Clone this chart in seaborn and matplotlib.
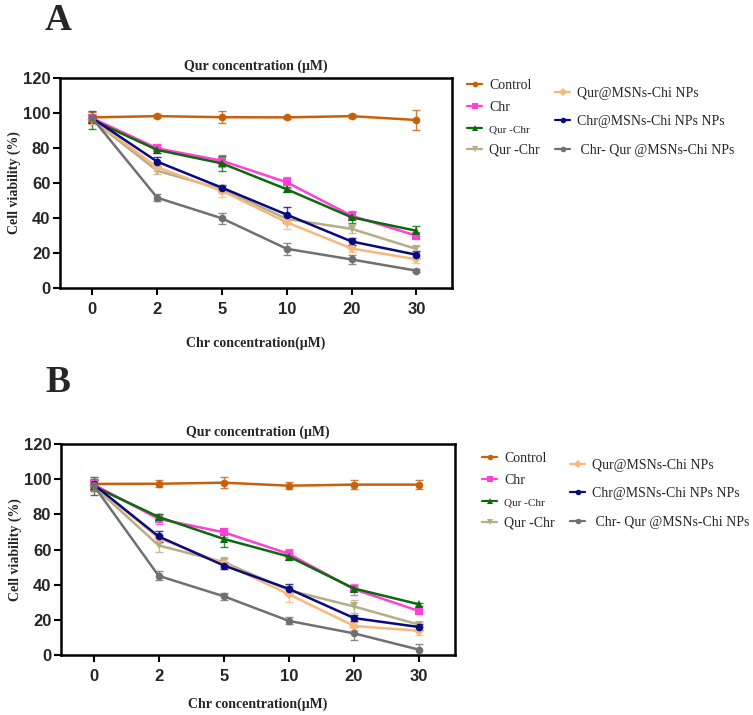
import numpy as np
import pandas as pd
import matplotlib
matplotlib.use("Agg")
import matplotlib.pyplot as plt
from matplotlib.lines import Line2D
import seaborn as sns

# ---------------- data ----------------
conc_labels = ["0", "2", "5", "10", "20", "30"]
groups = ["Control", "Chr", "Qur -Chr (green)", "Qur -Chr (khaki)",
          "Qur@MSNs-Chi NPs", "Chr@MSNs-Chi NPs NPs", "Chr- Qur @MSNs-Chi NPs"]
legend_labels = ["Control", "Chr", "Qur -Chr", "Qur -Chr",
                 "Qur@MSNs-Chi NPs", "Chr@MSNs-Chi NPs NPs", " Chr- Qur @MSNs-Chi NPs"]

# Panel A means
A_control = [97.5, 98.2, 97.6, 97.5, 98.2, 96.0]
A_chr     = [97.0, 79.8, 72.7, 60.4, 41.3, 29.9]
A_qurchr  = [96.0, 78.9, 71.2, 56.4, 40.4, 32.7]
A_qurchr2 = [96.0, 67.0, 56.5, 39.5, 33.8, 22.3]
A_qurmsn  = [96.5, 69.0, 55.5, 37.5, 22.6, 16.4]
A_chrmsn  = [97.0, 72.2, 57.3, 41.9, 26.6, 19.0]
A_combo   = [97.0, 51.6, 39.8, 22.4, 16.3, 9.9]
# Panel A error (SD)
A_control_sd = [3.0, 1.0, 3.5, 1.0, 1.0, 5.5]
A_chr_sd     = [2.0, 2.5, 3.5, 3.0, 2.5, 2.0]
A_qurchr_sd  = [5.0, 1.5, 4.5, 1.5, 3.0, 3.0]
A_qurchr2_sd = [2.5, 2.0, 2.0, 2.5, 2.5, 1.5]
A_qurmsn_sd  = [3.0, 2.0, 3.5, 3.5, 2.0, 2.0]
A_chrmsn_sd  = [2.0, 2.5, 1.5, 4.5, 2.0, 2.0]
A_combo_sd   = [2.0, 2.0, 3.0, 3.5, 2.5, 1.0]

# Panel B means
B_control = [97.3, 97.4, 98.0, 96.3, 96.9, 96.9]
B_chr     = [97.0, 77.4, 69.8, 57.5, 37.4, 25.0]
B_qurchr  = [96.0, 78.5, 66.0, 56.0, 37.8, 28.8]
B_qurchr2 = [96.0, 62.3, 52.8, 36.8, 27.6, 17.2]
B_qurmsn  = [96.5, 66.5, 52.0, 34.5, 16.5, 13.8]
B_chrmsn  = [97.0, 67.4, 50.9, 37.6, 21.0, 15.9]
B_combo   = [96.5, 45.0, 33.4, 19.4, 12.3, 3.0]
B_control_sd = [3.0, 2.0, 3.0, 2.0, 2.5, 2.5]
B_chr_sd     = [3.0, 3.0, 2.5, 3.0, 3.0, 1.0]
B_qurchr_sd  = [5.0, 1.5, 4.5, 2.0, 1.5, 1.0]
B_qurchr2_sd = [3.0, 3.5, 3.0, 2.5, 3.5, 1.5]
B_qurmsn_sd  = [3.0, 2.0, 2.5, 4.5, 2.0, 2.5]
B_chrmsn_sd  = [2.5, 3.0, 2.0, 2.5, 1.5, 1.5]
B_combo_sd   = [3.0, 2.5, 2.0, 2.0, 3.5, 3.0]

panel_A = [A_control, A_chr, A_qurchr, A_qurchr2, A_qurmsn, A_chrmsn, A_combo]
panel_A_sd = [A_control_sd, A_chr_sd, A_qurchr_sd, A_qurchr2_sd, A_qurmsn_sd, A_chrmsn_sd, A_combo_sd]
panel_B = [B_control, B_chr, B_qurchr, B_qurchr2, B_qurmsn, B_chrmsn, B_combo]
panel_B_sd = [B_control_sd, B_chr_sd, B_qurchr_sd, B_qurchr2_sd, B_qurmsn_sd, B_chrmsn_sd, B_combo_sd]

colors = ["#C8600A", "#FF3FD8", "#0A6B0A", "#B5AE85", "#F7B87E", "#0A0A80", "#707070"]
markers = ["o", "s", "^", "v", "D", "o", "o"]

# ---------------- style ----------------
sns.set_theme(style="white")
plt.rcParams["font.family"] = ["Liberation Serif", "DejaVu Serif"]
serif = ["Liberation Serif", "DejaVu Serif"]
sans = ["Liberation Sans", "DejaVu Sans"]

fig = plt.figure(figsize=(7.53, 7.15), dpi=100)
W, H = 753, 715


def make_df(means, sds):
    rows = []
    for g, m, s in zip(groups, means, sds):
        for i, lab in enumerate(conc_labels):
            rows.append({"pos": i, "conc": lab, "group": g, "viability": m[i], "sd": s[i]})
    return pd.DataFrame(rows)


def draw_panel(ax, means, sds, letter, letter_xy, leg1_xy, leg2_xy, xlabelpad):
    df = make_df(means, sds)
    pal = dict(zip(groups, colors))
    mk = dict(zip(groups, markers))
    for g in groups:
        sub = df[df.group == g]
        ax.errorbar(sub.pos, sub.viability, yerr=sub.sd, fmt="none",
                    ecolor=pal[g], elinewidth=1.0, capsize=3, capthick=1.0, alpha=0.8, zorder=2)
    sns.lineplot(data=df, x="pos", y="viability", hue="group", style="group",
                 palette=pal, markers=mk, dashes=False, markersize=5.5,
                 markeredgewidth=0, linewidth=1.8, legend=False, ax=ax,
                 hue_order=groups, style_order=groups, zorder=3)
    ax.set_xlim(-0.5, 5.55)
    ax.set_ylim(0, 120)
    ax.set_xticks(range(len(conc_labels)))
    ax.set_xticklabels(conc_labels)
    ax.set_yticks([0, 20, 40, 60, 80, 100, 120])
    for lab in ax.get_xticklabels() + ax.get_yticklabels():
        lab.set_family(sans)
        lab.set_fontweight("bold")
        lab.set_fontsize(12)
    ax.tick_params(axis="both", direction="out", length=5, width=1.5, color="black",
                   bottom=True, left=True, pad=2)
    ax.tick_params(axis="x", pad=5)
    for sp in ax.spines.values():
        sp.set_visible(True)
        sp.set_color("black")
        sp.set_linewidth(1.8)
    ax.set_xlabel("Chr concentration(μM)", family=serif, fontweight="bold",
                  fontsize=10, labelpad=xlabelpad)
    ax.set_ylabel("Cell viability (%)", family=serif, fontweight="bold",
                  fontsize=10, labelpad=1)
    ax.set_title("Qur concentration (μM)", family=serif, fontweight="bold",
                 fontsize=10, pad=6)
    fig.text(letter_xy[0] / W, 1 - letter_xy[1] / H, letter, family=serif,
             fontweight="bold", fontsize=27, ha="center", va="center")

    handles = [Line2D([], [], color=c, marker=m, markersize=4, linewidth=1.6,
                      markeredgewidth=0) for c, m in zip(colors, markers)]
    leg1 = ax.legend(handles[:4], legend_labels[:4], loc="upper left",
                     bbox_to_anchor=(leg1_xy[0] / W, 1 - leg1_xy[1] / H),
                     bbox_transform=fig.transFigure, frameon=False,
                     prop={"family": serif, "size": 10}, handlelength=1.1,
                     handletextpad=0.5, labelspacing=0.64, borderpad=0, borderaxespad=0)
    leg1.get_texts()[2].set_fontsize(8)
    ax.add_artist(leg1)
    ax.legend(handles[4:], legend_labels[4:], loc="upper left",
              bbox_to_anchor=(leg2_xy[0] / W, 1 - leg2_xy[1] / H),
              bbox_transform=fig.transFigure, frameon=False,
              prop={"family": serif, "size": 10}, handlelength=1.1,
              handletextpad=0.5, labelspacing=1.1, borderpad=0, borderaxespad=0)


axA = fig.add_axes([60 / W, 1 - 288 / H, 392 / W, 210 / H])
axB = fig.add_axes([61 / W, 1 - 655 / H, 394 / W, 211 / H])

draw_panel(axA, panel_A, panel_A_sd, "A", (58, 20), (467, 79), (555, 87), 14)
draw_panel(axB, panel_B, panel_B_sd, "B", (58, 382), (482, 452), (570, 459), 10)

fig.savefig("out.png", dpi=100)
